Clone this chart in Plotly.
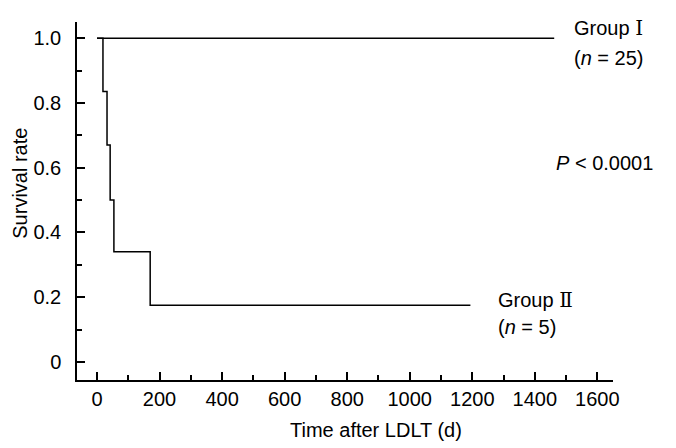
import plotly.graph_objects as go

# Kaplan-Meier style survival curves
group1_days = [0, 1462]
group1_surv = [1.0, 1.0]

group2_days = [0, 19, 32, 42, 54, 170, 1194]
group2_surv = [1.0, 0.835, 0.67, 0.5, 0.34, 0.175, 0.175]

y_tickvals = [0, 0.2, 0.4, 0.6, 0.8, 1.0]
y_ticktext = ["0", "0.2", "0.4", "0.6", "0.8", "1.0"]
x_tickvals = [0, 200, 400, 600, 800, 1000, 1200, 1400, 1600]

FONT = "Liberation Sans"
ROMAN = '<span style="font-family:DejaVu Serif">%s</span>'

fig = go.Figure()
fig.add_trace(go.Scatter(x=group1_days, y=group1_surv, mode="lines",
                         line=dict(color="black", width=1.5)))
fig.add_trace(go.Scatter(x=group2_days, y=group2_surv, mode="lines",
                         line=dict(color="black", width=1.5, shape="hv")))

notes = [
    (1520, 1.03, "Group " + ROMAN % "Ⅰ"),
    (1520, 0.94, "(<i>n</i> = 25)"),
    (1462, 0.614, "<i>P</i> &lt; 0.0001"),
    (1277, 0.19, "Group " + ROMAN % "Ⅱ"),
    (1277, 0.108, "(<i>n</i> = 5)"),
]
for x, y, t in notes:
    fig.add_annotation(x=x, y=y, text=t, showarrow=False, xanchor="left",
                       yanchor="middle", font=dict(family=FONT, size=20, color="black"))

# axis titles as paper annotations (x title sits a bit right of centre)
fig.add_annotation(x=0.558, y=-0.14, xref="paper", yref="paper",
                   text="Time after LDLT (d)", showarrow=False,
                   xanchor="center", yanchor="middle",
                   font=dict(family=FONT, size=20, color="black"))
fig.add_annotation(x=-0.107, y=0.55, xref="paper", yref="paper",
                   text="Survival rate", showarrow=False, textangle=-90,
                   xanchor="center", yanchor="middle",
                   font=dict(family=FONT, size=20, color="black"))

# page body has an 8px margin, so the figure is sized to fit inside it
fig.update_layout(
    width=668, height=440,
    margin=dict(l=69, r=63, t=14, b=68, autoexpand=False),
    plot_bgcolor="white", paper_bgcolor="white",
    showlegend=False,
    font=dict(family=FONT, size=20, color="black"),
)
fig.update_xaxes(
    range=[-64, 1650], showline=True, linecolor="black", linewidth=1.5,
    showgrid=False, zeroline=False, automargin=False,
    tickvals=x_tickvals, ticks="inside", ticklen=8, tickcolor="black", tickwidth=1.5,
    minor=dict(dtick=100, tick0=0, ticks="inside", ticklen=5, tickcolor="black", tickwidth=1.5),
)
fig.update_yaxes(
    range=[-0.056, 1.05], showline=True, linecolor="black", linewidth=1.5,
    showgrid=False, zeroline=False, automargin=False,
    tickvals=y_tickvals, ticktext=y_ticktext, ticks="inside", ticklen=8,
    tickcolor="black", tickwidth=1.5, ticklabelstandoff=10,
    minor=dict(dtick=0.1, tick0=0, ticks="inside", ticklen=5, tickcolor="black", tickwidth=1.5),
)

fig.write_html("out.html")
